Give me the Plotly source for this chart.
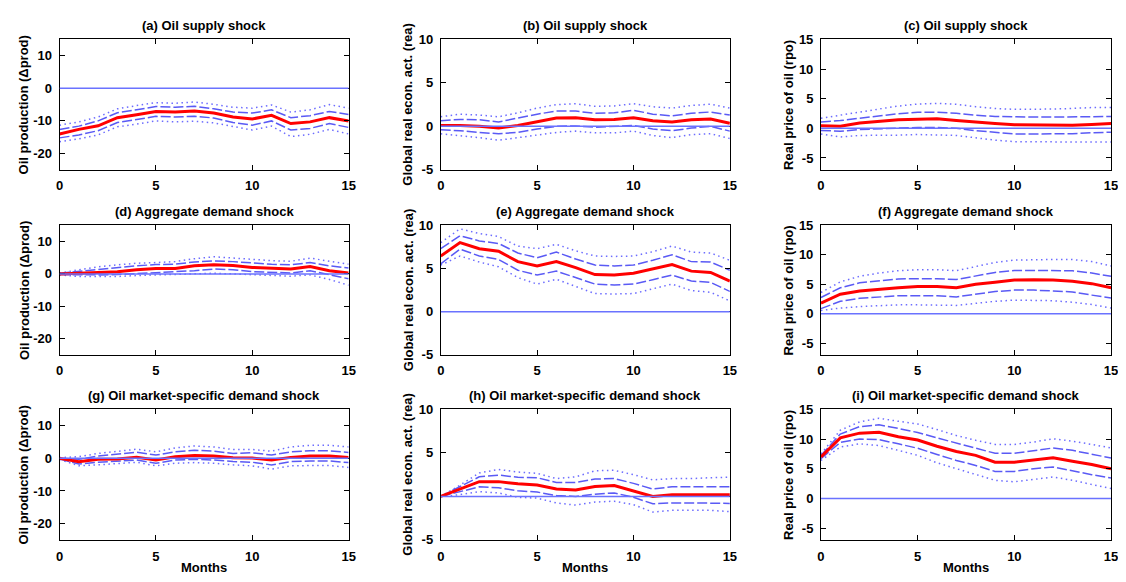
import plotly.graph_objects as go

MONTHS = list(range(16))

# ---- Panel data (impulse responses, 1-s.e. and 2-s.e. bands) ----
A_MID = [-14.0, -12.6, -11.5, -9.0, -8.1, -7.1, -7.3, -7.0, -7.6, -8.8, -9.4, -8.3, -10.8, -10.3, -9.0, -10.0]
A_UP1 = [-12.6, -11.6, -10.0, -7.5, -6.6, -5.6, -5.8, -5.5, -6.3, -7.3, -7.6, -6.6, -9.0, -8.4, -7.1, -8.0]
A_LO1 = [-15.2, -14.3, -13.0, -10.5, -9.6, -8.6, -8.8, -8.6, -9.1, -10.5, -11.3, -10.0, -12.8, -12.3, -10.8, -12.0]
A_UP2 = [-11.3, -10.3, -8.8, -6.3, -5.3, -4.4, -4.6, -4.2, -4.9, -5.8, -6.1, -5.1, -7.3, -6.6, -5.0, -6.1]
A_LO2 = [-16.4, -15.5, -14.3, -11.8, -11.0, -10.0, -10.3, -10.1, -10.6, -11.8, -12.8, -11.6, -14.8, -14.1, -12.6, -14.0]

B_MID = [0.1, 0.1, 0.0, -0.2, 0.1, 0.55, 0.95, 1.0, 0.75, 0.8, 1.0, 0.65, 0.5, 0.75, 0.85, 0.35]
B_UP1 = [0.65, 0.8, 0.75, 0.5, 0.95, 1.4, 1.75, 1.75, 1.5, 1.55, 1.85, 1.4, 1.2, 1.5, 1.65, 1.3]
B_LO1 = [-0.4, -0.5, -0.7, -0.85, -0.7, -0.3, 0.0, 0.05, -0.1, 0.0, 0.1, -0.3, -0.5, -0.2, 0.0, -0.55]
B_UP2 = [1.1, 1.4, 1.3, 1.1, 1.55, 2.1, 2.5, 2.6, 2.3, 2.35, 2.6, 2.25, 2.1, 2.4, 2.55, 2.1]
B_LO2 = [-0.85, -1.05, -1.3, -1.6, -1.3, -0.95, -0.7, -0.55, -0.75, -0.75, -0.55, -1.05, -1.3, -0.95, -0.85, -1.4]

C_MID = [0.45, 0.35, 0.9, 1.15, 1.45, 1.55, 1.6, 1.3, 1.0, 0.8, 0.6, 0.6, 0.5, 0.5, 0.65, 0.8]
C_UP1 = [1.05, 1.3, 1.7, 2.1, 2.45, 2.7, 2.7, 2.55, 2.2, 2.0, 1.9, 1.9, 1.9, 1.95, 2.0, 2.0]
C_LO1 = [-0.35, -0.5, -0.2, -0.05, 0.05, 0.15, 0.15, 0.0, -0.4, -0.65, -0.95, -0.95, -0.95, -0.9, -0.75, -0.65]
C_UP2 = [1.7, 2.25, 2.8, 3.25, 3.75, 4.1, 4.2, 4.05, 3.65, 3.35, 3.2, 3.2, 3.25, 3.35, 3.5, 3.5]
C_LO2 = [-0.95, -1.45, -1.2, -1.2, -1.15, -1.05, -1.1, -1.2, -1.6, -2.0, -2.25, -2.3, -2.3, -2.3, -2.3, -2.3]

D_MID = [0.0, 0.3, 0.5, 0.7, 1.3, 1.7, 1.7, 2.5, 2.8, 2.6, 2.0, 1.8, 1.5, 2.3, 1.0, 0.3]
D_UP1 = [0.2, 0.8, 1.5, 2.0, 2.5, 2.9, 3.0, 3.7, 4.0, 3.8, 3.3, 3.0, 2.8, 3.5, 2.5, 1.8]
D_LO1 = [-0.2, -0.3, -0.3, -0.2, 0.1, 0.3, 0.5, 1.0, 1.5, 1.3, 0.7, 0.5, 0.3, 1.0, -0.3, -1.5]
D_UP2 = [0.3, 1.3, 2.2, 2.8, 3.3, 3.5, 3.8, 4.7, 5.3, 4.9, 4.4, 4.1, 3.9, 4.9, 3.9, 3.0]
D_LO2 = [-0.3, -0.8, -0.8, -0.8, -0.5, -0.3, -0.2, 0.0, 0.2, 0.0, -0.3, -0.5, -0.7, -0.3, -1.7, -3.5]

E_MID = [6.45, 8.0, 7.3, 7.0, 5.8, 5.3, 5.8, 5.1, 4.3, 4.25, 4.45, 4.95, 5.45, 4.7, 4.55, 3.55]
E_UP1 = [7.3, 8.8, 8.2, 7.9, 6.8, 6.25, 6.9, 6.1, 5.4, 5.3, 5.4, 5.95, 6.6, 5.8, 5.75, 4.8]
E_LO1 = [5.55, 7.25, 6.45, 6.05, 4.8, 4.25, 4.7, 3.95, 3.2, 3.1, 3.2, 3.7, 4.25, 3.55, 3.4, 2.35]
E_UP2 = [8.0, 9.6, 9.05, 8.7, 7.6, 7.3, 7.8, 7.05, 6.45, 6.4, 6.45, 6.95, 7.6, 6.9, 6.8, 5.95]
E_LO2 = [5.4, 6.45, 5.75, 5.2, 3.95, 3.2, 3.75, 2.95, 2.1, 2.05, 2.1, 2.65, 3.2, 2.45, 2.25, 1.25]

F_MID = [1.8, 3.3, 3.85, 4.15, 4.4, 4.6, 4.6, 4.4, 5.0, 5.35, 5.7, 5.75, 5.7, 5.5, 5.1, 4.4]
F_UP1 = [2.75, 4.4, 5.25, 5.6, 5.9, 5.95, 5.95, 5.8, 6.45, 7.0, 7.35, 7.35, 7.35, 7.3, 6.9, 6.35]
F_LO1 = [0.85, 2.1, 2.6, 2.85, 3.05, 3.05, 3.05, 2.85, 3.3, 3.75, 4.0, 4.0, 3.85, 3.7, 3.15, 2.65]
F_UP2 = [3.6, 5.4, 6.35, 6.9, 7.3, 7.45, 7.45, 7.3, 8.0, 8.7, 9.1, 9.2, 9.2, 9.2, 8.85, 8.1]
F_LO2 = [0.55, 0.95, 1.2, 1.4, 1.5, 1.5, 1.5, 1.4, 1.75, 2.1, 2.3, 2.3, 2.2, 1.95, 1.55, 0.95]

G_MID = [0.0, -1.0, -0.3, -0.2, 0.3, -0.5, 0.5, 0.9, 0.7, 0.2, 0.1, -0.5, 0.3, 0.7, 0.7, 0.3]
G_UP1 = [0.0, -0.3, 0.7, 1.3, 1.9, 1.0, 2.0, 2.5, 2.2, 1.5, 1.7, 1.0, 2.0, 2.3, 2.3, 1.8]
G_LO1 = [-0.2, -1.7, -1.2, -0.8, -0.5, -1.5, -0.5, -0.3, -0.5, -1.0, -1.2, -2.0, -1.0, -0.8, -0.8, -1.3]
G_UP2 = [0.2, 0.5, 1.5, 2.2, 2.8, 2.0, 3.2, 3.8, 3.5, 2.7, 2.7, 2.2, 3.5, 4.0, 4.0, 3.5]
G_LO2 = [-0.3, -2.3, -2.0, -1.5, -1.2, -2.3, -1.5, -1.3, -1.5, -2.0, -2.3, -3.3, -2.3, -2.2, -2.2, -2.8]

H_MID = [0.0, 0.85, 1.7, 1.7, 1.45, 1.3, 0.85, 0.75, 1.15, 1.25, 0.65, 0.0, 0.2, 0.2, 0.2, 0.2]
H_UP1 = [0.0, 1.1, 2.25, 2.45, 2.2, 2.15, 1.6, 1.6, 2.0, 2.05, 1.5, 0.85, 1.1, 1.1, 1.1, 1.1]
H_LO1 = [0.0, 0.55, 1.1, 1.0, 0.65, 0.5, 0.1, 0.0, 0.25, 0.4, -0.1, -0.85, -0.75, -0.75, -0.75, -0.8]
H_UP2 = [0.0, 1.3, 2.7, 3.1, 2.8, 2.65, 2.05, 2.25, 2.95, 3.0, 2.5, 1.9, 2.05, 2.05, 2.15, 2.2]
H_LO2 = [0.0, 0.2, 0.55, 0.4, -0.1, -0.2, -0.75, -1.0, -0.65, -0.55, -0.95, -1.8, -1.6, -1.6, -1.6, -1.75]

I_MID = [7.0, 10.2, 11.0, 11.15, 10.4, 9.85, 8.8, 7.9, 7.25, 6.1, 6.1, 6.5, 6.85, 6.25, 5.7, 5.0]
I_UP1 = [7.25, 10.85, 12.1, 12.4, 11.8, 11.1, 10.2, 9.3, 8.5, 7.6, 7.6, 8.1, 8.5, 8.1, 7.4, 6.8]
I_LO1 = [6.7, 9.45, 10.0, 9.9, 9.2, 8.45, 7.4, 6.4, 5.55, 4.55, 4.55, 5.0, 5.3, 4.6, 4.0, 3.45]
I_UP2 = [7.5, 11.5, 12.9, 13.5, 13.0, 12.55, 11.6, 10.6, 9.8, 9.1, 9.1, 9.5, 10.05, 9.65, 9.1, 8.5]
I_LO2 = [6.4, 8.65, 9.2, 8.9, 8.1, 7.25, 6.0, 5.0, 4.0, 3.05, 2.8, 3.25, 3.6, 3.05, 2.4, 1.65]

TITLES = ["(a) Oil supply shock", "(b) Oil supply shock", "(c) Oil supply shock",
          "(d) Aggregate demand shock", "(e) Aggregate demand shock", "(f) Aggregate demand shock",
          "(g) Oil market-specific demand shock", "(h) Oil market-specific demand shock",
          "(i) Oil market-specific demand shock"]
YLABELS = ["Oil production (\u0394prod)", "Global real econ. act. (rea)", "Real price of oil (rpo)"]
YRANGES = [[-25, 15], [-5, 10], [-7, 15]]
YTICKS = [[-20, -10, 0, 10], [-5, 0, 5, 10], [-5, 0, 5, 10, 15]]
XTICKS = [0, 5, 10, 15]
XLABEL = "Months"

PANELS = [
    (A_MID, A_UP1, A_LO1, A_UP2, A_LO2),
    (B_MID, B_UP1, B_LO1, B_UP2, B_LO2),
    (C_MID, C_UP1, C_LO1, C_UP2, C_LO2),
    (D_MID, D_UP1, D_LO1, D_UP2, D_LO2),
    (E_MID, E_UP1, E_LO1, E_UP2, E_LO2),
    (F_MID, F_UP1, F_LO1, F_UP2, F_LO2),
    (G_MID, G_UP1, G_LO1, G_UP2, G_LO2),
    (H_MID, H_UP1, H_LO1, H_UP2, H_LO2),
    (I_MID, I_UP1, I_LO1, I_UP2, I_LO2),
]

# The page body keeps its default 8px margin, so the figure starts at (8, 8)
# in the window; size it to fill the rest of the 1126x582 window exactly.
OFF = 8
W, H = 1126 - OFF, 582 - OFF
COLS_PX = [(56, 348), (441, 733), (825, 1118)]   # window pixels
ROWS_PX = [(33, 167), (224, 357), (413, 547)]    # window pixels
YLAB_GAP = [36, 33, 33]

FONT = "Liberation Sans, Arial, sans-serif"
FS = 13
ZERO_C = "#6a72ff"
DASH_C = "#5a5af5"
DOT_C = "#6c6cff"


def bold(v):
    return "<b>%s</b>" % v


def fx(px):
    return (px - OFF) / W


def fy(py):
    return 1 - (py - OFF) / H


fig = go.Figure()
layout = dict(
    width=W, height=H, margin=dict(l=0, r=0, t=0, b=0, pad=0),
    paper_bgcolor="white", plot_bgcolor="white", showlegend=False,
    font=dict(family=FONT, size=FS, color="black"),
)
annotations = []
shapes = []

for k, series in enumerate(PANELS):
    r, c = divmod(k, 3)
    idx = "" if k == 0 else str(k + 1)
    xa, ya = "x" + idx, "y" + idx
    x0, x1 = COLS_PX[c]
    y0, y1 = ROWS_PX[r]
    common = dict(
        showline=True, linecolor="black", linewidth=1, mirror="ticks",
        ticks="inside", ticklen=5, tickcolor="black", tickwidth=1,
        showgrid=False, zeroline=False,
        tickfont=dict(family=FONT, size=FS, color="black"),
    )
    layout["xaxis" + idx] = dict(
        domain=[fx(x0), fx(x1)], anchor=ya, range=[0, 15],
        tickmode="array", tickvals=XTICKS, ticktext=[bold(v) for v in XTICKS],
        ticklabelstandoff=4, **common)
    layout["yaxis" + idx] = dict(
        domain=[fy(y1), fy(y0)], anchor=xa, range=YRANGES[c],
        tickmode="array", tickvals=YTICKS[c], ticktext=[bold(v) for v in YTICKS[c]],
        ticklabelstandoff=4, **common)

    mid, up1, lo1, up2, lo2 = series
    shapes.append(dict(type="line", xref=xa, yref=ya, x0=0, x1=15, y0=0, y1=0,
                       line=dict(color=ZERO_C, width=1.5), layer="above"))
    for s in (up2, lo2):
        fig.add_trace(go.Scatter(x=MONTHS, y=s, mode="lines", xaxis=xa, yaxis=ya,
                                 line=dict(color=DOT_C, width=1.5, dash="1.5px,3.5px")))
    for s in (up1, lo1):
        fig.add_trace(go.Scatter(x=MONTHS, y=s, mode="lines", xaxis=xa, yaxis=ya,
                                 line=dict(color=DASH_C, width=1.5, dash="10px,3px")))
    fig.add_trace(go.Scatter(x=MONTHS, y=mid, mode="lines", xaxis=xa, yaxis=ya,
                             line=dict(color="#ff0000", width=3)))

    cx = fx((x0 + x1) / 2)
    annotations.append(dict(text=bold(TITLES[k]), xref="paper", yref="paper",
                            x=cx, y=fy(y0 - 14), showarrow=False,
                            xanchor="center", yanchor="middle",
                            font=dict(family=FONT, size=FS, color="black")))
    annotations.append(dict(text=bold(YLABELS[c]), xref="paper", yref="paper",
                            x=fx(x0 - YLAB_GAP[c]), y=fy((y0 + y1) / 2), showarrow=False,
                            textangle=-90, xanchor="center", yanchor="middle",
                            font=dict(family=FONT, size=FS, color="black")))
    if r == 2:
        annotations.append(dict(text=bold(XLABEL), xref="paper", yref="paper",
                                x=cx, y=fy(y1 + 28), showarrow=False,
                                xanchor="center", yanchor="middle",
                                font=dict(family=FONT, size=FS, color="black")))

layout["annotations"] = annotations
layout["shapes"] = shapes
fig.update_layout(**layout)
fig.write_html("out.html", config={"displayModeBar": False})
